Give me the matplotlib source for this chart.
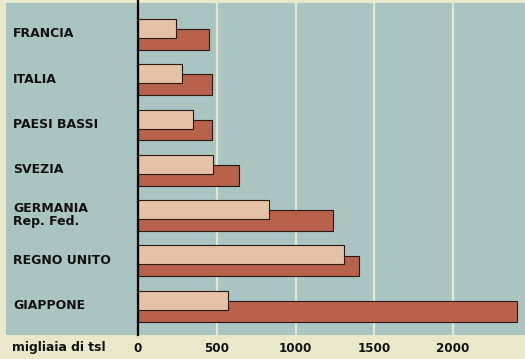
import matplotlib.pyplot as plt
import numpy as np

# Dati (migliaia di tsl)
paesi = ["FRANCIA", "ITALIA", "PAESI BASSI", "SVEZIA", "GERMANIA\nRep. Fed.", "REGNO UNITO", "GIAPPONE"]
valori_chiari = [240, 278, 348, 475, 830, 1310, 570]
valori_scuri = [450, 470, 470, 640, 1235, 1400, 2405]
tick_valori = [0, 500, 1000, 1500, 2000]

sfondo = "#a9c4c1"
crema = "#e9e8ca"
chiaro = "#e4c2a6"
scuro = "#b8614b"

fig = plt.figure(figsize=(5.25, 3.59), dpi=100, facecolor=crema)
ax = fig.add_axes([6/525, 24/359, 519/525, 332/359])
ax.set_facecolor(sfondo)

y = np.arange(len(paesi))
ax.barh(y + 0.121, valori_scuri, height=0.46, color=scuro, edgecolor="#2a1a14", linewidth=0.8, zorder=3)
ax.barh(y - 0.121, valori_chiari, height=0.42, color=chiaro, edgecolor="#2a1a14", linewidth=0.8, zorder=4)

for v in tick_valori[1:]:
    ax.axvline(v, color="#e2e8cc", linewidth=1.6, zorder=1)
ax.axvline(0, color="black", linewidth=1.6, zorder=5, ymax=1.012, clip_on=False)

ax.set_xlim(-838, 2457)
ax.set_ylim(6.646, -0.684)

for i, p in enumerate(paesi):
    ax.text(0.0135, i, p, transform=ax.get_yaxis_transform(), ha="left", va="center",
            fontsize=9, fontweight="bold", color="#111111", linespacing=0.95)

ax.set_xticks(tick_valori)
ax.set_xticklabels([str(v) for v in tick_valori], fontsize=8.6, fontweight="bold", color="#111111")
ax.tick_params(axis="x", length=0, pad=5)
ax.set_yticks([])
for s in ax.spines.values():
    s.set_visible(False)

fig.text(12/525, 1 - 347/359, "migliaia di tsl", ha="left", va="center",
         fontsize=8.9, fontweight="bold", color="#111111")

fig.savefig("out.png", dpi=100, facecolor=crema)
